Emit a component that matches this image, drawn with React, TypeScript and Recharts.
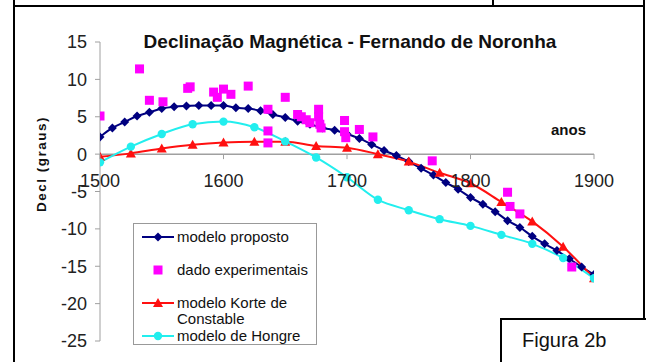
import React from "react"
import { ComposedChart, Line, Scatter, XAxis, YAxis, ReferenceLine } from "recharts"

// series
const YEARS_10 = [
  1500, 1510, 1520, 1530, 1540, 1550, 1560, 1570, 1580, 1590, 1600, 1610, 1620, 1630,
  1640, 1650, 1660, 1670, 1680, 1690, 1700, 1710, 1720, 1730, 1740, 1750, 1760, 1770,
  1780, 1790, 1800, 1810, 1820, 1830, 1840, 1850, 1860, 1870, 1880, 1890, 1900,
]
const PROPOSTO = [
  2.3, 3.5, 4.3, 5.1, 5.6, 6.1, 6.35, 6.45, 6.5, 6.5, 6.5, 6.2, 6.1, 5.8,
  5.3, 4.9, 4.4, 4.0, 3.5, 3.2, 2.7, 2.1, 1.3, 0.5, -0.2, -1.0, -1.9, -2.8,
  -3.8, -4.7, -5.8, -6.7, -7.7, -8.9, -9.8, -11.0, -12.0, -12.9, -14.0, -15.1, -16.1,
]

const YEARS_25 = [
  1500, 1525, 1550, 1575, 1600, 1625, 1650, 1675, 1700, 1725, 1750, 1775, 1800, 1825,
  1850, 1875, 1900,
]
const KORTE = [
  -0.35, 0.1, 0.75, 1.25, 1.55, 1.65, 1.65, 1.1, 0.85, 0.0, -1.0, -2.5, -3.9, -6.4,
  -9.0, -12.4, -16.6,
]
const HONGRE = [
  -1.1, 1.0, 2.7, 4.0, 4.35, 3.6, 1.7, -0.45, -3.1, -6.1, -7.5, -8.7, -9.6, -10.8,
  -12.0, -13.9, -16.6,
]

const EXP_YEARS = [
  1500, 1532, 1540, 1551, 1571, 1573, 1592, 1595, 1600, 1606, 1620, 1636, 1636, 1636,
  1650, 1660, 1663, 1667, 1670, 1677, 1677, 1678, 1679, 1698, 1698, 1699, 1710, 1721,
  1769, 1830, 1832, 1840, 1882,
]
const EXP_VALUES = [
  5.1, 11.4, 7.2, 7.0, 8.8, 9.0, 8.3, 7.6, 8.7, 8.0, 9.1, 6.0, 3.1, 1.5,
  7.6, 5.3, 5.0, 4.6, 4.2, 6.0, 5.0, 4.0, 3.5, 4.5, 3.0, 2.2, 3.3, 2.3,
  -0.9, -5.1, -7.0, -8.0, -15.1,
]

const X_TICKS = [1500, 1600, 1700, 1800, 1900]
const Y_TICKS = [15, 10, 5, 0, -5, -10, -15, -20, -25]

const proposto = YEARS_10.map((x, i) => ({ x, y: PROPOSTO[i] }))
const korte = YEARS_25.map((x, i) => ({ x, y: KORTE[i] }))
const hongre = YEARS_25.map((x, i) => ({ x, y: HONGRE[i] }))
const experimental = EXP_YEARS.map((x, i) => ({ x, y: EXP_VALUES[i] }))

const NAVY = "#000080"
const MAGENTA = "#FF00FF"
const RED = "#FF1010"
const CYAN = "#22EEEE"
const AXIS = "#A0A0A0"
const FONT = '"Liberation Sans", Arial, sans-serif'

const W = 646
const H = 362
const PLOT_TOP = 42
const PLOT_H = 299
const ZERO_Y = PLOT_TOP + (PLOT_H * 15) / 40

function diamond(cx: number, cy: number, r: number) {
  return `M${cx},${cy - r}L${cx + r},${cy}L${cx},${cy + r}L${cx - r},${cy}Z`
}
function triangle(cx: number, cy: number, r: number) {
  return `M${cx},${cy - r}L${cx + r},${cy + r * 0.8}L${cx - r},${cy + r * 0.8}Z`
}

function Marker({ kind, cx, cy }: { kind: string; cx: number; cy: number }) {
  if (kind === "diamond") return <path d={diamond(cx, cy, 4.5)} fill={NAVY} />
  if (kind === "square") return <rect x={cx - 4.5} y={cy - 4.5} width={9} height={9} fill={MAGENTA} />
  if (kind === "triangle") return <path d={triangle(cx, cy, 5)} fill={RED} />
  return <circle cx={cx} cy={cy} r={4.2} fill={CYAN} />
}

const LEGEND = [
  { label: "modelo proposto", color: NAVY, kind: "diamond", line: true, top: 13 },
  { label: "dado experimentais", color: MAGENTA, kind: "square", line: false, top: 46 },
  { label: "modelo Korte de", sub: "Constable", color: RED, kind: "triangle", line: true, top: 79 },
  { label: "modelo de Hongre", color: CYAN, kind: "circle", line: true, top: 112 },
]

function XTick({ x, payload }: any) {
  return (
    <g>
      <line x1={x} x2={x} y1={ZERO_Y} y2={ZERO_Y + 5} stroke={AXIS} />
      <text x={x} y={ZERO_Y + 33} textAnchor="middle" fill="#222" fontSize={18} fontFamily={FONT}>
        {payload.value}
      </text>
    </g>
  )
}

export default function App() {
  return (
    <div style={{ position: "absolute", left: 0, top: 0, width: W, height: H, background: "#fff", overflow: "hidden", fontFamily: FONT }}>
      <ComposedChart width={W} height={H} margin={{ top: PLOT_TOP, right: 52, bottom: 0, left: 0 }}>
        <XAxis
          dataKey="x"
          type="number"
          domain={[1500, 1900]}
          ticks={X_TICKS}
          height={21}
          axisLine={false}
          tickLine={false}
          tick={<XTick />}
          allowDataOverflow
        />
        <YAxis
          dataKey="y"
          type="number"
          domain={[-25, 15]}
          ticks={Y_TICKS}
          width={100}
          stroke={AXIS}
          tickSize={5}
          tickMargin={8}
          tick={{ fill: "#222", fontSize: 18, fontFamily: FONT }}
          allowDataOverflow
        />
        <ReferenceLine y={0} stroke={AXIS} strokeWidth={1.5} />
        <Line
          data={proposto}
          dataKey="y"
          type="monotone"
          stroke={NAVY}
          strokeWidth={2}
          isAnimationActive={false}
          dot={(p: any) => <Marker key={`p${p.index}`} kind="diamond" cx={p.cx} cy={p.cy} />}
        />
        <Scatter
          data={experimental}
          dataKey="y"
          isAnimationActive={false}
          shape={(p: any) => <Marker kind="square" cx={p.cx} cy={p.cy} />}
        />
        <Line
          data={korte}
          dataKey="y"
          type="monotone"
          stroke={RED}
          strokeWidth={2}
          isAnimationActive={false}
          dot={(p: any) => <Marker key={`k${p.index}`} kind="triangle" cx={p.cx} cy={p.cy} />}
        />
        <Line
          data={hongre}
          dataKey="y"
          type="monotone"
          stroke={CYAN}
          strokeWidth={2}
          isAnimationActive={false}
          dot={(p: any) => <Marker key={`h${p.index}`} kind="circle" cx={p.cx} cy={p.cy} />}
        />
      </ComposedChart>

      {/* frame of the page the figure was cut from */}
      <div style={{ position: "absolute", left: 13, top: 0, width: 2, height: H, background: "#000" }} />
      <div style={{ position: "absolute", left: 13, top: 5, width: 632, height: 2, background: "#000" }} />
      <div style={{ position: "absolute", left: 492, top: 0, width: 2, height: 6, background: "#000" }} />
      <div style={{ position: "absolute", left: 643, top: 0, width: 2, height: 319, background: "#000" }} />
      <div style={{ position: "absolute", left: 500, top: 318, width: 160, height: 60, border: "2px solid #000", background: "#fff" }}>
        <div style={{ position: "absolute", left: 20, top: 9, fontSize: 20, color: "#111" }}>Figura 2b</div>
      </div>

      <div style={{ position: "absolute", left: 0, width: 700, top: 31, textAlign: "center", fontWeight: "bold", fontSize: 19, color: "#111" }}>
        Declinação Magnética - Fernando de Noronha
      </div>
      <div style={{ position: "absolute", left: 551, top: 121, fontWeight: "bold", fontSize: 15, color: "#111" }}>anos</div>
      <div
        style={{
          position: "absolute",
          left: 41,
          top: 164,
          transform: "translate(-50%, -50%) rotate(-90deg)",
          whiteSpace: "nowrap",
          fontWeight: "bold",
          fontSize: 13.5,
          letterSpacing: 1.5,
          color: "#111",
        }}
      >
        Decl (graus)
      </div>

      <div style={{ position: "absolute", left: 133, top: 223, width: 182, height: 120, border: "1px solid #999", background: "#fff" }}>
        {LEGEND.map((item) => (
          <div key={item.label} style={{ position: "absolute", left: 0, top: item.top - 9, width: 182, height: 18 }}>
            <svg width={40} height={18} style={{ position: "absolute", left: 0, top: 0 }}>
              {item.line && <line x1={8} x2={40} y1={9} y2={9} stroke={item.color} strokeWidth={2} />}
              <Marker kind={item.kind} cx={24} cy={9} />
            </svg>
            <div style={{ position: "absolute", left: 43, top: 0, fontSize: 15, lineHeight: "18px", color: "#111", whiteSpace: "nowrap" }}>
              {item.label}
              {item.sub && <div style={{ lineHeight: "14px" }}>{item.sub}</div>}
            </div>
          </div>
        ))}
      </div>
    </div>
  )
}
